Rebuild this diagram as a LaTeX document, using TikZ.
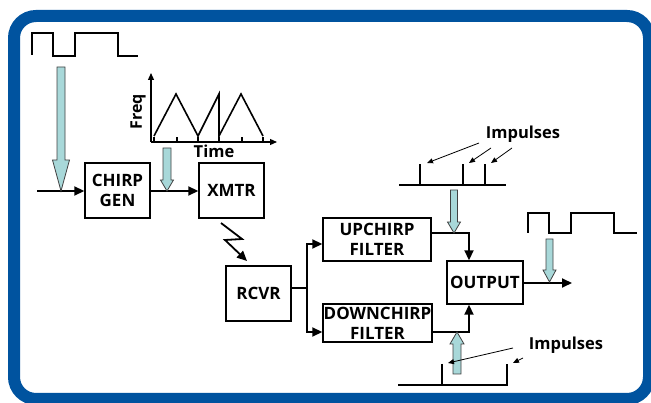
\documentclass[tikz,border=0pt]{standalone}
\usepackage{fontspec}
\setmainfont{Open Sans}
\usetikzlibrary{arrows.meta,calc}
\definecolor{frameblue}{HTML}{00539F}
\definecolor{lblue}{HTML}{A8D8D9}
\newcommand\blarr[6]{\draw[blarrow] ({#1-#4},#2) -- ({#1+#4},#2) -- ({#1+#4},{#3-#6}) -- ({#1+#5},{#3-#6}) -- (#1,#3) -- ({#1-#5},{#3-#6}) -- ({#1-#4},{#3-#6}) -- cycle;}
\begin{document}
\begin{tikzpicture}[x=1pt,y=-1pt,
 box/.style={draw, line width=1.4pt, inner sep=0pt, align=center, font=\fontsize{17}{20}\selectfont\bfseries},
 sig/.style={line width=1.8pt, -{Triangle[length=10pt,width=9pt]}},
 wire/.style={line width=1.8pt},
 thinarr/.style={line width=0.8pt, -{Triangle[length=6pt,width=5pt]}},
 blarrow/.style={fill=lblue, draw=black!75, line width=0.8pt, line join=miter},
 lbl/.style={font=\fontsize{16.5}{19}\selectfont\bfseries, inner sep=0pt},
 wave/.style={line width=1.6pt, line join=miter},
 axis/.style={line width=1.2pt, -{Triangle[length=7pt,width=6pt]}}
]
\useasboundingbox (0,0) rectangle (651,403);
\draw[line width=12pt, frameblue, rounded corners=22pt] (14,16) rectangle (649,399);

% boxes
\node[box, minimum width=65pt, minimum height=55pt] (chirp) at (117.5,190.5) {CHIRP\\GEN};
\node[box, minimum width=65pt, minimum height=55pt] (xmtr) at (231.5,190.5) {XMTR};
\node[box, minimum width=65pt, minimum height=55pt] (rcvr) at (258.5,293.5) {RCVR};
\node[box, minimum width=108pt, minimum height=43pt] (up) at (377,239.5) {UPCHIRP\\FILTER};
\node[box, minimum width=109pt, minimum height=38pt] (down) at (377.5,323) {DOWNCHIRP\\FILTER};
\node[box, minimum width=76pt, minimum height=43pt] (out) at (485,282.5) {OUTPUT};

% square waves
\draw[wave] (32,55) -- (32,33) -- (53,33) -- (53,56) -- (75,56) -- (75,33) -- (118,33) -- (118,56) -- (138,56);
\draw[wave] (528,233) -- (528,213) -- (549,213) -- (549,233) -- (571,233) -- (571,213) -- (614,213) -- (614,233) -- (637,233);

% chart
\coordinate (org) at (151,142);
\draw[axis] (org) -- (151,73);
\draw[axis] (org) -- (277,142);
\foreach \t in {154,177,198,219,242,263} \draw[line width=1.1pt] (\t,142) -- (\t,137);
\draw[wave] (154,136) -- (176,94) -- (198,136) -- (219,94) -- (219,136) -- (241,94) -- (263,136);
\node[lbl, font=\fontsize{16}{18}\selectfont\bfseries, rotate=90] (freq) at (138,112) {Freq};
\node[lbl] (time) at (214,151) {Time};

% signal path
\coordinate (in) at (37,191);
\draw[sig] (in) -- (in -| chirp.west);
\draw[sig] (chirp.east |- in) -- (xmtr.west |- in);

\coordinate (l0) at (221,223);
\coordinate (l1) at (242,239);
\coordinate (l2) at (225,240);
\coordinate (l3) at (247,261);
\draw[sig, line join=miter] (l0) -- (l1) -- (l2) -- (l3);

\coordinate (sp) at (307,288);
\coordinate (spu) at (307,244);
\coordinate (spd) at (307,332);
\draw[wire] (rcvr.east |- sp) -- (sp);
\draw[sig] (sp) -- (spu) -- (spu -| up.west);
\draw[sig] (sp) -- (spd) -- (spd -| down.west);

\coordinate (uo) at (469,233);
\coordinate (do) at (469,332);
\draw[sig] (uo -| up.east) -- (uo) -- (uo |- out.north);
\draw[sig] (do -| down.east) -- (do) -- (do |- out.south);
\coordinate (oend) at (572,283);
\draw[sig] (oend -| out.east) -- (oend);

% impulses
\draw[wire, line width=1.6pt] (399,185) -- (506,185);
\foreach \t in {420,463,485} \draw[line width=1.6pt] (\t,185) -- (\t,164);
\draw[wire, line width=1.6pt] (442,364) -- (442,385) -- (507,385) -- (507,364);
\draw[wire, line width=1.6pt] (398,385) -- (442,385);

% light blue arrows
\blarr{61}{67}{191}{4}{8.5}{31}
\blarr{167}{148}{191}{4}{6.5}{11}
\blarr{454}{190}{233}{3.5}{6.5}{11}
\blarr{549.5}{239}{282}{3.5}{6.5}{12}
\blarr{457}{374}{332}{4}{7}{-12}

% impulse labels
\node[lbl] (imp1) at (523,134) {Impulses};
\node[lbl] (imp2) at (566,345) {Impulses};
\coordinate (a1s) at (479,143); \coordinate (a1e) at (427,163);
\coordinate (a2s) at (491,148); \coordinate (a2e) at (469,163);
\coordinate (a3s) at (512,148); \coordinate (a3e) at (491,163);
\draw[thinarr] (a1s) -- (a1e);
\draw[thinarr] (a2s) -- (a2e);
\draw[thinarr] (a3s) -- (a3e);
\coordinate (b1s) at (513,348); \coordinate (b1e) at (448,363);
\coordinate (b2s) at (523,358); \coordinate (b2e) at (513,363);
\draw[thinarr] (b1s) -- (b1e);
\draw[thinarr] (b2s) -- (b2e);
\end{tikzpicture}
\end{document}
